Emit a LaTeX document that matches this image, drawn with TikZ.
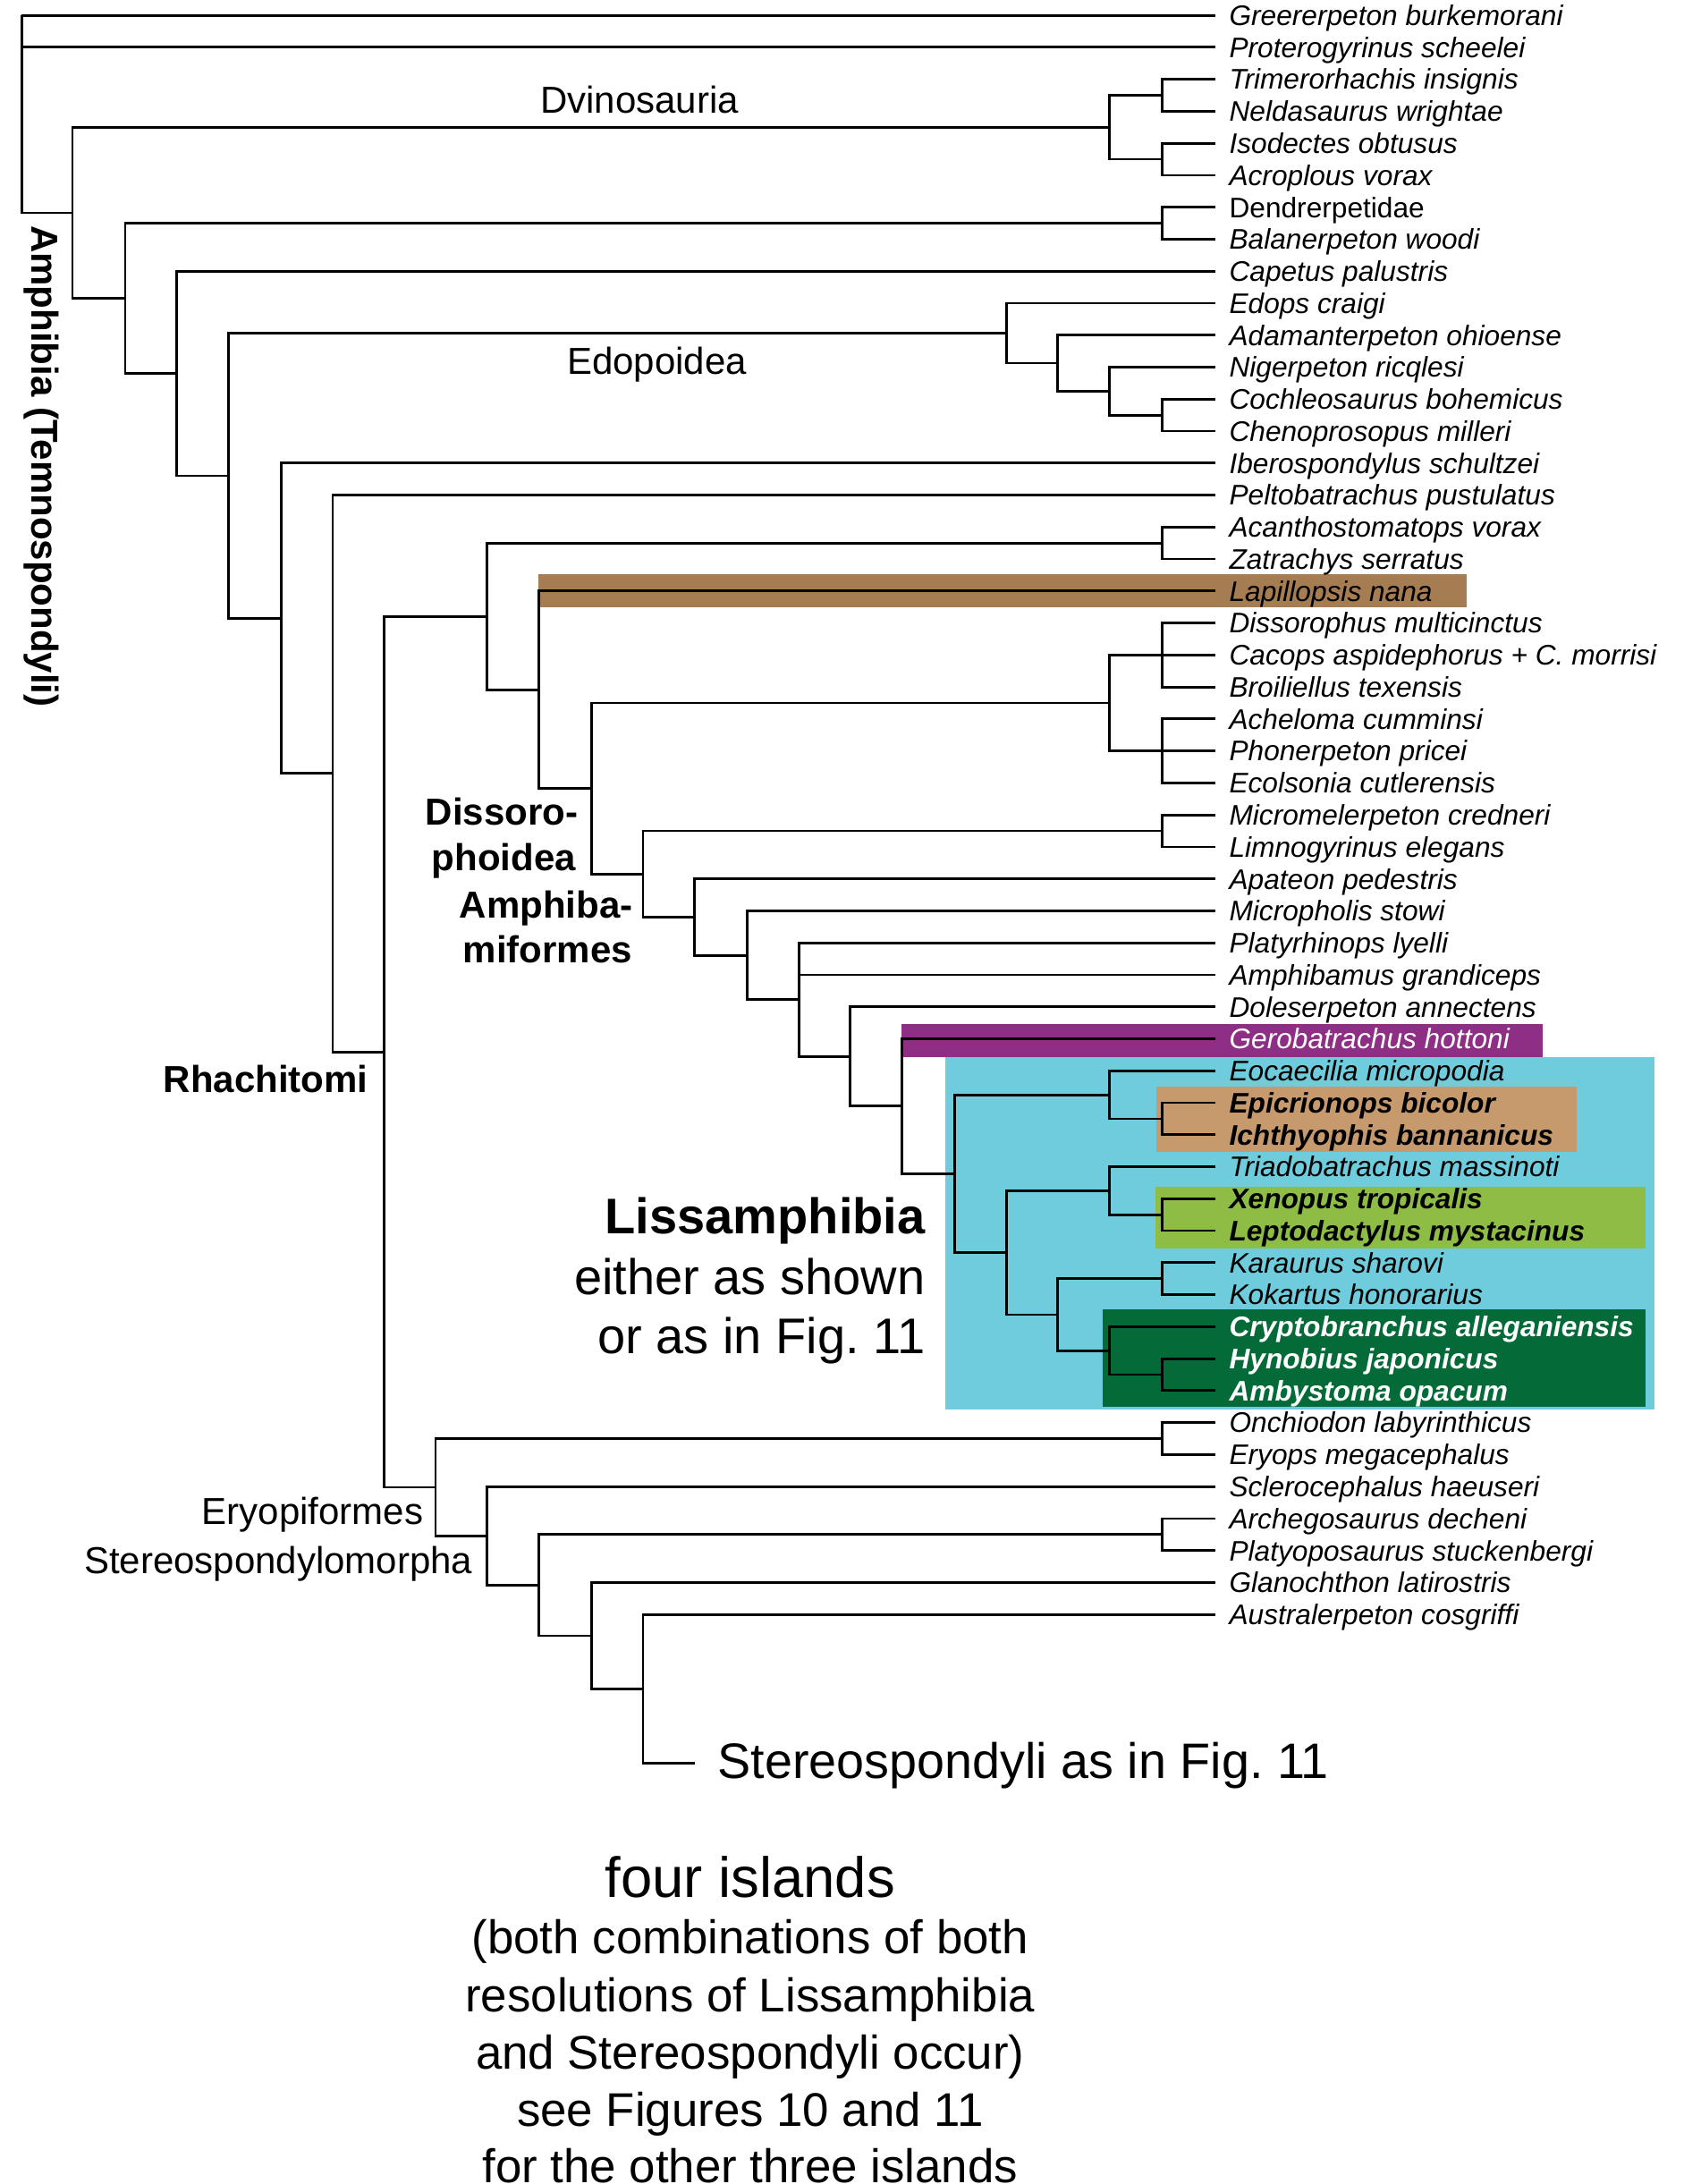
\documentclass[tikz,border=0pt]{standalone}
\usepackage{fontspec}
\setmainfont{Liberation Sans}
\definecolor{lapc}{RGB}{166,124,82}
\definecolor{gerc}{RGB}{142,46,133}
\definecolor{lisc}{RGB}{110,204,220}
\definecolor{ichc}{RGB}{198,154,109}
\definecolor{anuc}{RGB}{141,189,68}
\definecolor{cauc}{RGB}{4,106,56}
\begin{document}
\begin{tikzpicture}[x=0.778pt,y=-0.778pt,
  br/.style={line width=1.4pt,line join=miter},
  leaf/.style={font=\fontsize{15.83}{19}\selectfont\itshape,anchor=west,inner sep=0pt,text height=11.33pt,text depth=0pt},
  clade/.style={font=\fontsize{21}{25}\selectfont,inner sep=0pt},
  cladeb/.style={font=\fontsize{21}{25}\selectfont\bfseries,inner sep=0pt},
  lisl/.style={font=\fontsize{28}{33}\selectfont,inner sep=0pt},
  bottom/.style={font=\fontsize{26.4}{31}\selectfont,inner sep=0pt,anchor=base}]
\useasboundingbox (0,0) rectangle (1210,1569.2);
% coloured boxes
\fill[lapc] (387,412.5) rectangle (1054,436.6);
\fill[gerc] (648,735.5) rectangle (1108.5,759.6);
\fill[lisc] (679,759.6) rectangle (1189,1012.7);
\fill[ichc] (831,780.8) rectangle (1133,827.7);
\fill[anuc] (830,852.6) rectangle (1182.6,897.3);
\fill[cauc] (792.3,940.7) rectangle (1182.6,1010.9);
% leaves
\foreach \nm [count=\i] in {Greererpeton burkemorani, Proterogyrinus scheelei,
 Trimerorhachis insignis, Neldasaurus wrightae, Isodectes obtusus, Acroplous vorax,
 {\upshape Dendrerpetidae}, Balanerpeton woodi, Capetus palustris, Edops craigi,
 Adamanterpeton ohioense, Nigerpeton ricqlesi, Cochleosaurus bohemicus,
 Chenoprosopus milleri, Iberospondylus schultzei, Peltobatrachus pustulatus,
 Acanthostomatops vorax, Zatrachys serratus, Lapillopsis nana,
 Dissorophus multicinctus, Cacops aspidephorus + C.\ morrisi, Broiliellus texensis,
 Acheloma cumminsi, Phonerpeton pricei, Ecolsonia cutlerensis,
 Micromelerpeton credneri, Limnogyrinus elegans, Apateon pedestris,
 Micropholis stowi, Platyrhinops lyelli, Amphibamus grandiceps,
 Doleserpeton annectens, {\color{white}Gerobatrachus hottoni},
 Eocaecilia micropodia, {\bfseries Epicrionops bicolor}, {\bfseries Ichthyophis bannanicus},
 Triadobatrachus massinoti, {\bfseries Xenopus tropicalis}, {\bfseries Leptodactylus mystacinus},
 Karaurus sharovi, Kokartus honorarius,
 {\color{white}\bfseries Cryptobranchus alleganiensis}, {\color{white}\bfseries Hynobius japonicus},
 {\color{white}\bfseries Ambystoma opacum},
 Onchiodon labyrinthicus, Eryops megacephalus, Sclerocephalus haeuseri,
 Archegosaurus decheni, Platyoposaurus stuckenbergi, Glanochthon latirostris,
 Australerpeton cosgriffi}{
  \pgfmathsetmacro{\yy}{11+22.98*(\i-1)}
  \coordinate (t\i) at (873,\yy);
  \node[leaf] (l\i) at (883,\yy) {\nm};
}
% internal nodes
\coordinate (root) at (15.5,11);
\coordinate (Dvx) at (52,152.9);
\coordinate (Dvi) at (797,91.43);
\coordinate (D12) at (835,68.45);
\coordinate (D34) at (835,114.41);
\coordinate (Dnx) at (90,214.3);
\coordinate (Den) at (835,160.37);
\coordinate (Cap) at (127,268.3);
\coordinate (Edx) at (164,341.8);
\coordinate (Edo) at (723,239.4);
\coordinate (Ed2) at (760,260.9);
\coordinate (Ed3) at (797,281.0);
\coordinate (Ed4) at (835,298.25);
\coordinate (Ibe) at (202,444.2);
\coordinate (Pel) at (239,555.7);
\coordinate (Rha) at (276,755.8);
\coordinate (Dso) at (350,442.9);
\coordinate (Az) at (835,390.17);
\coordinate (Lap) at (387,495.6);
\coordinate (Dsp) at (425,566.5);
\coordinate (Ols) at (797,505.07);
\coordinate (Dis) at (835,470.6);
\coordinate (Tre) at (835,539.54);
\coordinate (Amb) at (462,627.9);
\coordinate (Br) at (835,596.99);
\coordinate (Apa) at (499,658.9);
\coordinate (Mic) at (537,686.4);
\coordinate (Pla) at (574,718.3);
\coordinate (Dol) at (611,759.1);
\coordinate (Ger) at (648,794.8);
\coordinate (Lis) at (686,843.3);
\coordinate (Gym) at (797,786.6);
\coordinate (Ic) at (835,803.81);
\coordinate (Bat) at (723,900.05);
\coordinate (Anu) at (797,855.5);
\coordinate (XL) at (835,872.75);
\coordinate (Cau) at (760,944.6);
\coordinate (KK) at (835,918.71);
\coordinate (Cry) at (797,970.4);
\coordinate (HA) at (835,987.65);
\coordinate (Ery) at (313,1068.6);
\coordinate (OE) at (835,1033.6);
\coordinate (Sc) at (350,1103.5);
\coordinate (Ar) at (387,1138.9);
\coordinate (AP) at (835,1102.55);
\coordinate (Gl) at (425,1175.3);
\coordinate (St) at (462,1213.5);
\coordinate (Ste) at (499,1267);
% branches
\foreach \p/\c in {root/t1,root/t2,root/Dvx,Dvx/Dvi,Dvx/Dnx,Dvi/D12,Dvi/D34,
 D12/t3,D12/t4,D34/t5,D34/t6,Dnx/Den,Dnx/Cap,Den/t7,Den/t8,Cap/t9,Cap/Edx,
 Edx/Edo,Edx/Ibe,Edo/t10,Edo/Ed2,Ed2/t11,Ed2/Ed3,Ed3/t12,Ed3/Ed4,Ed4/t13,Ed4/t14,
 Ibe/t15,Ibe/Pel,Pel/t16,Pel/Rha,Rha/Dso,Rha/Ery,Dso/Az,Dso/Lap,Az/t17,Az/t18,
 Lap/t19,Lap/Dsp,Dsp/Ols,Dsp/Amb,Ols/Dis,Ols/Tre,Dis/t20,Dis/t21,Dis/t22,
 Tre/t23,Tre/t24,Tre/t25,Amb/Br,Amb/Apa,Br/t26,Br/t27,Apa/t28,Apa/Mic,
 Mic/t29,Mic/Pla,Pla/t30,Pla/t31,Pla/Dol,Dol/t32,Dol/Ger,Ger/t33,Ger/Lis,
 Lis/Gym,Lis/Bat,Gym/t34,Gym/Ic,Ic/t35,Ic/t36,Bat/Anu,Bat/Cau,Anu/t37,Anu/XL,
 XL/t38,XL/t39,Cau/KK,Cau/Cry,KK/t40,KK/t41,Cry/t42,Cry/HA,HA/t43,HA/t44,
 Ery/OE,Ery/Sc,OE/t45,OE/t46,Sc/t47,Sc/Ar,Ar/AP,Ar/Gl,AP/t48,AP/t49,
 Gl/t50,Gl/St,St/t51,St/Ste}
 \draw[br] (\p) |- (\c);
% clade labels
\node[clade,anchor=base] (dvin) at (459.5,81.2) {Dvinosauria};
\node[clade,anchor=base] (edop) at (472,268.8) {Edopoidea};
\node[cladeb,rotate=-90,anchor=west,text height=15.04pt,text depth=0pt] (amph) at (32.2,161.7) {Amphibia (Temnospondyli)};
\node[cladeb,anchor=base] (diss1) at (360.5,593) {Dissoro-};
\node[cladeb,anchor=base] (diss2) at (362,625.5) {phoidea};
\node[cladeb,anchor=base] (amb1) at (392.5,659.7) {Amphiba-};
\node[cladeb,anchor=base] (amb2) at (393.5,691.9) {miformes};
\node[cladeb,anchor=base] (rhac) at (191,785) {Rhachitomi};
\node[lisl,font=\fontsize{28}{33}\selectfont\bfseries,anchor=base east] (lis1) at (665,886.5) {Lissamphibia};
\node[lisl,anchor=base east] (lis2) at (665,929.9) {either as shown};
\node[lisl,anchor=base east] (lis3) at (665,972.5) {or as in Fig.\ 11};
\node[clade,anchor=base] (eryo) at (224.5,1095) {Eryopiformes};
\node[clade,anchor=base] (stmo) at (200,1130.9) {Stereospondylomorpha};
\node[font=\fontsize{27.85}{33}\selectfont,inner sep=0pt,anchor=base west] (stl) at (515.5,1277.6) {Stereospondyli as in Fig.\ 11};
% bottom text
\node[bottom,font=\fontsize{31.7}{37}\selectfont] (four) at (539,1363) {four islands};
\node[bottom] (b1) at (539,1404) {(both combinations of both};
\node[bottom] (b2) at (539,1445.3) {resolutions of Lissamphibia};
\node[bottom] (b3) at (539,1486.3) {and Stereospondyli occur)};
\node[bottom] (b4) at (539,1527.5) {see Figures 10 and 11};
\node[bottom] (b5) at (539,1568.5) {for the other three islands};
\end{tikzpicture}
\end{document}
